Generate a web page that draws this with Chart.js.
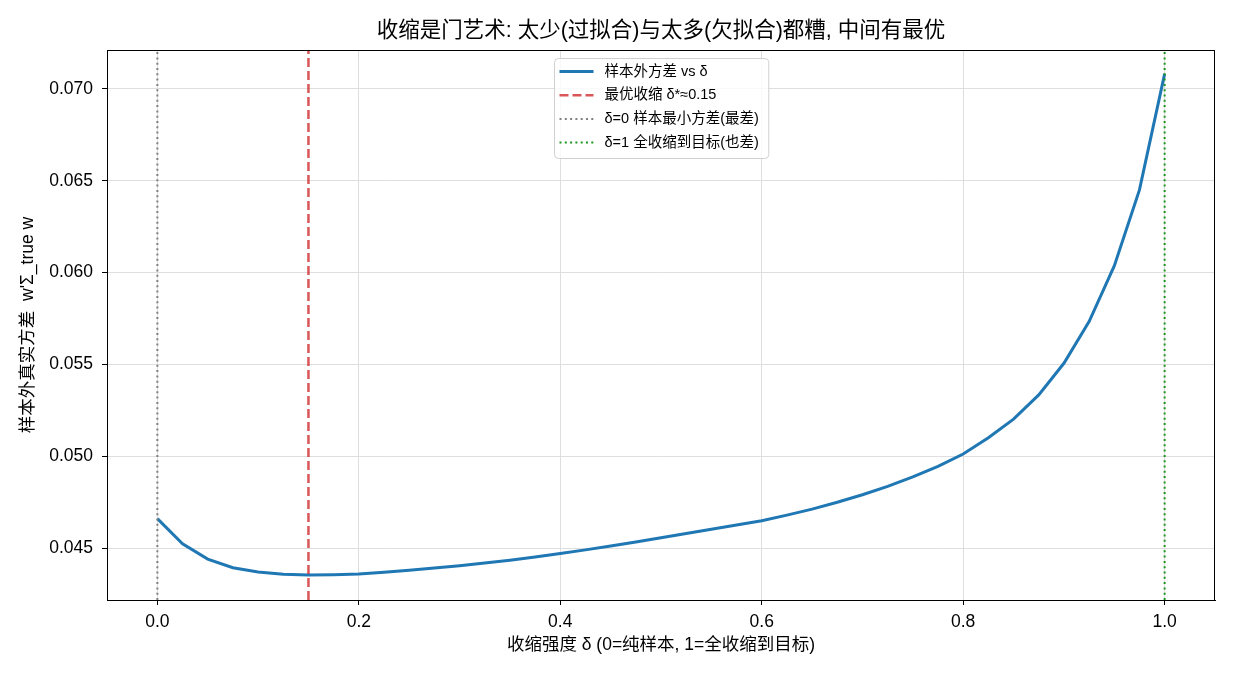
<!DOCTYPE html>
<html lang="zh">
<head>
<meta charset="utf-8">
<title>收缩强度与样本外方差</title>
<script src="https://cdn.jsdelivr.net/npm/chart.js@4.4.1/dist/chart.umd.min.js"></script>
<style>
  html, body { margin: 0; padding: 0; background: #fff; }
  #wrap { width: 1235px; height: 676px; }
</style>
</head>
<body>
<div id="wrap"><canvas id="shrinkChart" width="1235" height="676"></canvas></div>
<script>
// 数据: 收缩强度 δ 与样本外真实方差
const deltas = [
  0.000, 0.025, 0.050, 0.075, 0.100, 0.125, 0.150, 0.175, 0.200, 0.225,
  0.250, 0.275, 0.300, 0.325, 0.350, 0.375, 0.400, 0.425, 0.450, 0.475,
  0.500, 0.525, 0.550, 0.575, 0.600, 0.625, 0.650, 0.675, 0.700, 0.725,
  0.750, 0.775, 0.800, 0.825, 0.850, 0.875, 0.900, 0.925, 0.950, 0.975,
  1.000
];
const oosVariance = [
  0.04660, 0.04523, 0.04440, 0.04393, 0.04369, 0.04357, 0.04353, 0.04354, 0.04358, 0.04368,
  0.04379, 0.04391, 0.04404, 0.04418, 0.04434, 0.04451, 0.04470, 0.04490, 0.04511, 0.04533,
  0.04556, 0.04579, 0.04602, 0.04625, 0.04649, 0.04679, 0.04712, 0.04749, 0.04790, 0.04836,
  0.04887, 0.04945, 0.05012, 0.05101, 0.05202, 0.05334, 0.05506, 0.05733, 0.06036, 0.06450,
  0.07082
];
const bestDelta = 0.15;
const xRange = [-0.05, 1.05];
const yRange = [0.04217, 0.07212];

const titleText = "收缩是门艺术: 太少(过拟合)与太多(欠拟合)都糟, 中间有最优";
const xTitle = "收缩强度 δ (0=纯样本, 1=全收缩到目标)";
const yTitle = "样本外真实方差  w'Σ_true w";
const legendLabels = [
  "样本外方差 vs δ",
  "最优收缩 δ*≈0.15",
  "δ=0 样本最小方差(最差)",
  "δ=1 全收缩到目标(也差)"
];

const FONT = '"Liberation Sans", "Noto Sans CJK SC", sans-serif';
Chart.defaults.font.family = FONT;
Chart.defaults.color = '#000';

// 竖线: 从 y 轴下限画到上限
function vline(x) {
  return [{ x: x, y: yRange[0] }, { x: x, y: yRange[1] }];
}

// 标题, 外框, 图例 (matplotlib 风格)
const frameAndLegend = {
  id: 'frameAndLegend',
  afterDraw(chart) {
    const { ctx, chartArea: a } = chart;
    const cx = (a.left + a.right) / 2;
    ctx.save();

    ctx.strokeStyle = '#000';
    ctx.lineWidth = 1;
    ctx.strokeRect(a.left + 0.5, a.top + 0.5, a.right - a.left - 1, a.bottom - a.top);

    ctx.fillStyle = '#000';
    ctx.font = '21.5px ' + FONT;
    ctx.textAlign = 'center';
    ctx.textBaseline = 'middle';
    ctx.fillText(titleText, cx, 31);

    // 图例
    const ds = chart.data.datasets;
    ctx.font = '14.5px ' + FONT;
    const textW = Math.max(...ds.map(d => ctx.measureText(d.label).width));
    const w = 50 + textW + 10;
    const h = 100;
    const x0 = Math.round(cx - w / 2) + 0.5;
    const y0 = a.top + 8.5;
    ctx.beginPath();
    ctx.roundRect(x0, y0, w, h, 4);
    ctx.fillStyle = 'rgba(255,255,255,0.8)';
    ctx.fill();
    ctx.strokeStyle = '#d0d0d0';
    ctx.lineWidth = 1;
    ctx.stroke();

    ds.forEach((d, i) => {
      const cy = y0 + 13 + i * 23.7;
      ctx.beginPath();
      ctx.setLineDash(d.borderDash || []);
      ctx.strokeStyle = d.borderColor;
      ctx.lineWidth = d.borderWidth;
      ctx.moveTo(x0 + 5, cy);
      ctx.lineTo(x0 + 39, cy);
      ctx.stroke();
      ctx.setLineDash([]);
      ctx.fillStyle = '#000';
      ctx.textAlign = 'left';
      ctx.fillText(d.label, x0 + 50, cy);
    });
    ctx.restore();
  }
};

const chart = new Chart(document.getElementById('shrinkChart'), {
  type: 'line',
  data: {
    datasets: [
      {
        label: legendLabels[0],
        data: deltas.map((d, i) => ({ x: d, y: oosVariance[i] })),
        borderColor: '#1f77b4',
        borderWidth: 3,
        pointRadius: 0,
        tension: 0,
        order: 1
      },
      {
        label: legendLabels[1],
        data: vline(bestDelta),
        borderColor: 'rgba(207,45,46,0.8)',
        borderWidth: 2.5,
        borderDash: [9, 4],
        pointRadius: 0,
        order: 0
      },
      {
        label: legendLabels[2],
        data: vline(deltas[0]),
        borderColor: '#808080',
        borderWidth: 2,
        borderDash: [2, 3.3],
        pointRadius: 0,
        order: 0
      },
      {
        label: legendLabels[3],
        data: vline(deltas[deltas.length - 1]),
        borderColor: '#1c961c',
        borderWidth: 2,
        borderDash: [2, 3.3],
        pointRadius: 0,
        order: 0
      }
    ]
  },
  options: {
    responsive: false,
    animation: false,
    layout: { padding: { left: 0, right: 20, top: 50, bottom: 0 } },
    plugins: {
      legend: { display: false },
      tooltip: { enabled: false },
      title: { display: false }
    },
    scales: {
      x: {
        type: 'linear',
        min: xRange[0],
        max: xRange[1],
        ticks: {
          stepSize: 0.2,
          includeBounds: false,
          padding: 6.5,
          font: { size: 17.5 },
          color: '#000',
          callback: v => v.toFixed(1)
        },
        grid: { color: '#dedede', tickColor: '#000', tickLength: 5, lineWidth: 1 },
        border: { color: '#000', width: 1 },
        title: {
          display: true,
          text: xTitle,
          font: { size: 17.5 },
          color: '#000',
          padding: { top: 0, bottom: 20.5 }
        },
        afterFit(scale) { scale.height = 76; }
      },
      y: {
        min: yRange[0],
        max: yRange[1],
        ticks: {
          stepSize: 0.005,
          includeBounds: false,
          padding: 9,
          font: { size: 17.5 },
          color: '#000',
          callback: v => v.toFixed(3)
        },
        grid: { color: '#dedede', tickColor: '#000', tickLength: 5, lineWidth: 1 },
        border: { color: '#000', width: 1 },
        title: {
          display: true,
          text: yTitle,
          font: { size: 17.5 },
          color: '#000',
          padding: { top: 18, bottom: 0 }
        },
        afterFit(scale) { scale.width = 107; }
      }
    }
  },
  plugins: [frameAndLegend]
});
</script>
</body>
</html>
